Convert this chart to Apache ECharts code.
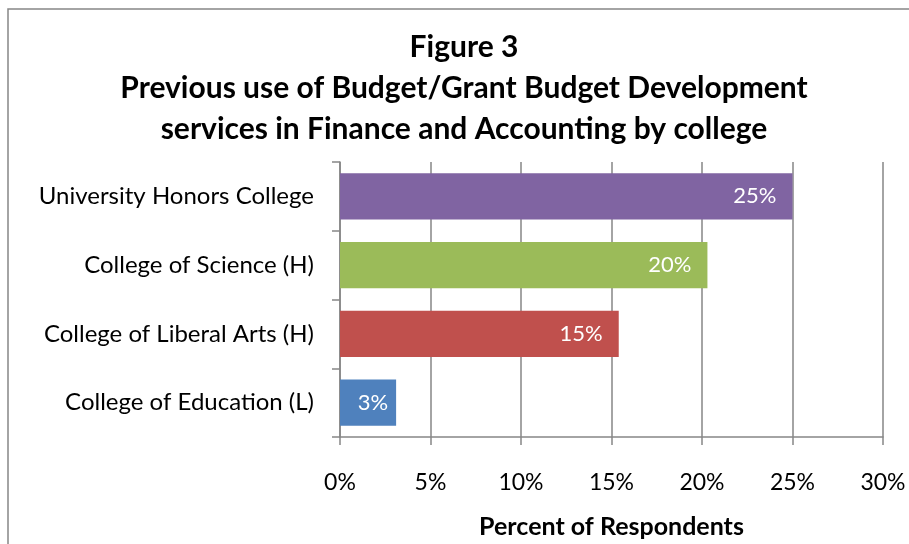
<!DOCTYPE html>
<html>
<head>
<meta charset="utf-8">
<script src="https://cdn.jsdelivr.net/npm/echarts@6/dist/echarts.min.js"></script>
<style>
  html, body { margin: 0; padding: 0; background: #fff; }
  #chart { width: 909px; height: 544px; }
</style>
</head>
<body>
<div id="chart"></div>
<script>
// Colleges, top to bottom
const colleges = [
  'University Honors College',
  'College of Science (H)',
  'College of Liberal Arts (H)',
  'College of Education (L)'
];
// Share of respondents who used the service (%)
const percentUsed = [25.0, 20.3, 15.4, 3.1];
const barColors = ['#8064A2', '#9BBB59', '#C0504D', '#4F81BD'];
// Percent axis ticks
const axisMin = 0, axisMax = 30, axisStep = 5;

const FONT = 'Lato, "Open Sans", sans-serif';

const chart = echarts.init(document.getElementById('chart'), null, { renderer: 'canvas' });

chart.setOption({
  backgroundColor: '#fff',
  animation: false,
  title: {
    text: 'Figure 3\nPrevious use of Budget/Grant Budget Development\nservices in Finance and Accounting by college',
    left: 459,
    textAlign: 'center',
    top: 22,
    textStyle: {
      fontFamily: FONT,
      fontWeight: 'bold',
      fontSize: 30,
      lineHeight: 41,
      color: '#000'
    }
  },
  graphic: [{
    type: 'rect',
    shape: { x: 8, y: 9, width: 1000, height: 700 },
    style: { fill: 'none', stroke: '#868686', lineWidth: 1.5 },
    silent: true,
    z: -1
  }],
  grid: { left: 340, right: 26, top: 162, bottom: 103, containLabel: false },
  xAxis: {
    type: 'value',
    min: axisMin,
    max: axisMax,
    interval: axisStep,
    name: 'Percent of Respondents',
    nameLocation: 'middle',
    nameGap: 77,
    nameTextStyle: { fontFamily: FONT, fontWeight: 'bold', fontSize: 25, color: '#000' },
    axisLine: { show: true, lineStyle: { color: '#868686', width: 1.5 } },
    axisTick: { show: true, length: 8, lineStyle: { color: '#868686', width: 1.5 } },
    axisLabel: {
      margin: 34,
      fontFamily: FONT,
      fontSize: 23,
      color: '#000',
      formatter: v => v + '%'
    },
    splitLine: { show: true, lineStyle: { color: '#868686', width: 1.5 } }
  },
  yAxis: {
    type: 'category',
    data: colleges,
    inverse: true,
    axisLine: { show: true, lineStyle: { color: '#868686', width: 1.5 } },
    axisTick: { show: true, length: 8, alignWithLabel: false, lineStyle: { color: '#868686', width: 1.5 } },
    axisLabel: { margin: 26, fontFamily: FONT, fontSize: 24, color: '#000' },
    splitLine: { show: false }
  },
  series: [{
    type: 'bar',
    barWidth: '67%',
    data: percentUsed.map((v, i) => ({
      value: v,
      itemStyle: { color: barColors[i] },
      label: { distance: v < 5 ? 8 : 16 }
    })),
    label: {
      show: true,
      position: 'insideRight',
      fontFamily: FONT,
      fontSize: 22,
      color: '#fff',
      formatter: p => Math.round(p.value) + '%'
    }
  }]
});
</script>
</body>
</html>
